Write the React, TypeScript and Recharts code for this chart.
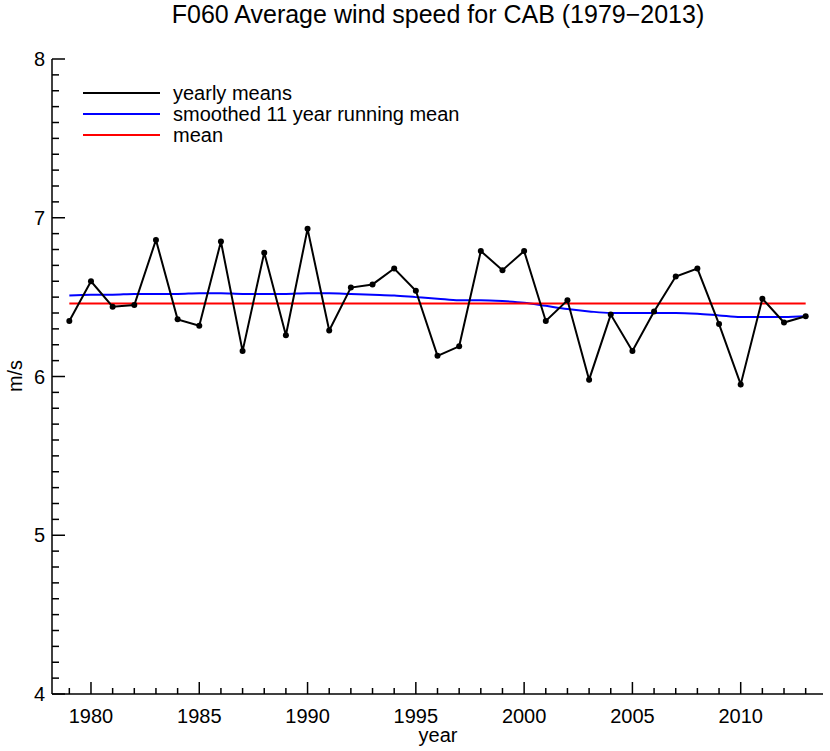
import React from 'react';
import { LineChart, Line, XAxis, YAxis, ReferenceLine, Legend } from 'recharts';

const years = [
  1979, 1980, 1981, 1982, 1983, 1984, 1985, 1986, 1987, 1988,
  1989, 1990, 1991, 1992, 1993, 1994, 1995, 1996, 1997, 1998,
  1999, 2000, 2001, 2002, 2003, 2004, 2005, 2006, 2007, 2008,
  2009, 2010, 2011, 2012, 2013,
];

const yearlyMeans = [
  6.35, 6.6, 6.44, 6.45, 6.86, 6.36, 6.32, 6.85, 6.16, 6.78,
  6.26, 6.93, 6.29, 6.56, 6.58, 6.68, 6.54, 6.13, 6.19, 6.79,
  6.67, 6.79, 6.35, 6.48, 5.98, 6.39, 6.16, 6.41, 6.63, 6.68,
  6.33, 5.95, 6.49, 6.34, 6.38,
];

const smoothedMeans = [
  6.51, 6.515, 6.515, 6.52, 6.52, 6.52, 6.525, 6.525, 6.52, 6.52,
  6.52, 6.525, 6.525, 6.52, 6.515, 6.51, 6.5, 6.49, 6.48, 6.48,
  6.475, 6.465, 6.445, 6.425, 6.41, 6.4, 6.4, 6.4, 6.4, 6.395,
  6.385, 6.375, 6.375, 6.375, 6.38,
];

const meanSpeed = 6.46;

const legendItems = [
  { label: 'yearly means', color: '#000000' },
  { label: 'smoothed 11 year running mean', color: '#0000ff' },
  { label: 'mean', color: '#ff0000' },
];

const yTicks = Array.from({ length: 41 }, (_, i) => +(4 + i * 0.1).toFixed(1));

const FONT = '"Liberation Sans", Arial, Helvetica, sans-serif';

const data = years.map((year, i) => ({
  year,
  yearly: yearlyMeans[i],
  smooth: smoothedMeans[i],
}));

const isMajorY = (v: number) => Math.abs(v - Math.round(v)) < 1e-6;

// tick marks point into the plot, as in the IDL frame
const BottomTick = ({ x, y, payload }: any) => {
  const major = payload.value % 5 === 0;
  return (
    <g>
      <line x1={x} x2={x} y1={y} y2={y - (major ? 12 : 6)} stroke="#000" strokeWidth={1.5} />
      {major && (
        <text x={x} y={y + 29} textAnchor="middle" fontSize={20} fontFamily={FONT} fill="#000">
          {payload.value}
        </text>
      )}
    </g>
  );
};

const TopTick = ({ x, y, payload }: any) => {
  const major = payload.value % 5 === 0;
  return <line x1={x} x2={x} y1={y} y2={y + (major ? 12 : 6)} stroke="#000" strokeWidth={1.5} />;
};

const LeftTick = ({ x, y, payload }: any) => {
  const major = isMajorY(payload.value);
  return (
    <g>
      <line x1={x} x2={x + (major ? 13 : 7)} y1={y} y2={y} stroke="#000" strokeWidth={1.5} />
      {major && (
        <text x={x - 7} y={y + 7} textAnchor="end" fontSize={20} fontFamily={FONT} fill="#000">
          {Math.round(payload.value)}
        </text>
      )}
    </g>
  );
};

const RightTick = ({ x, y, payload }: any) => {
  const major = isMajorY(payload.value);
  return <line x1={x} x2={x - (major ? 13 : 7)} y1={y} y2={y} stroke="#000" strokeWidth={1.5} />;
};

const renderLegend = () => (
  <svg width={440} height={70}>
    {legendItems.map((item, i) => (
      <g key={item.label}>
        <line x1={4} x2={81} y1={12 + i * 21} y2={12 + i * 21} stroke={item.color} strokeWidth={2} />
        <text x={94} y={19 + i * 21} fontSize={20} fontFamily={FONT} fill="#000">
          {item.label}
        </text>
      </g>
    ))}
  </svg>
);

const axisLine = { stroke: '#000', strokeWidth: 1.5 };

export default function App() {
  return (
    <div style={{ position: 'absolute', left: 0, top: 0, width: 830, height: 751, background: '#fff' }}>
      <LineChart width={830} height={751} data={data} margin={{ top: 59, right: 7, left: 0, bottom: 0 }}>
        <XAxis
          xAxisId="bottom"
          dataKey="year"
          type="number"
          domain={[1978.2, 2013.8]}
          ticks={years}
          interval={0}
          height={57}
          tickSize={0}
          tickMargin={0}
          tickLine={false}
          axisLine={axisLine}
          tick={<BottomTick />}
          allowDataOverflow
        />
        <XAxis
          xAxisId="top"
          orientation="top"
          dataKey="year"
          type="number"
          domain={[1978.2, 2013.8]}
          ticks={years}
          interval={0}
          height={0}
          tickSize={0}
          tickMargin={0}
          tickLine={false}
          axisLine={axisLine}
          tick={<TopTick />}
          allowDataOverflow
        />
        <YAxis
          yAxisId="left"
          type="number"
          domain={[4, 8]}
          ticks={yTicks}
          interval={0}
          width={52}
          tickSize={0}
          tickMargin={0}
          tickLine={false}
          axisLine={axisLine}
          tick={<LeftTick />}
          allowDataOverflow
        />
        <YAxis
          yAxisId="right"
          orientation="right"
          type="number"
          domain={[4, 8]}
          ticks={yTicks}
          interval={0}
          width={0}
          tickSize={0}
          tickMargin={0}
          tickLine={false}
          axisLine={axisLine}
          tick={<RightTick />}
          allowDataOverflow
        />
        <Legend
          layout="horizontal"
          verticalAlign="middle"
          align="center"
          content={renderLegend}
          wrapperStyle={{ left: 79, top: 81, width: 440, height: 70 }}
        />
        <Line
          xAxisId="bottom"
          yAxisId="left"
          dataKey="smooth"
          type="monotone"
          stroke="#0000ff"
          strokeWidth={2}
          dot={false}
          isAnimationActive={false}
        />
        <ReferenceLine
          xAxisId="bottom"
          yAxisId="left"
          segment={[{ x: years[0], y: meanSpeed }, { x: years[years.length - 1], y: meanSpeed }]}
          stroke="#ff0000"
          strokeWidth={2}
        />
        <Line
          xAxisId="bottom"
          yAxisId="left"
          dataKey="yearly"
          type="linear"
          stroke="#000"
          strokeWidth={2}
          dot={{ r: 3, fill: '#000', stroke: 'none' }}
          isAnimationActive={false}
        />
      </LineChart>
      <svg
        width={830}
        height={751}
        style={{ position: 'absolute', left: 0, top: 0, pointerEvents: 'none' }}
      >
        <text x={438} y={23} textAnchor="middle" fontSize={25} fontFamily={FONT} fill="#000">
          F060 Average wind speed for CAB (1979−2013)
        </text>
        <text x={438} y={742} textAnchor="middle" fontSize={20} fontFamily={FONT} fill="#000">
          year
        </text>
        <text
          transform="translate(22,376) rotate(-90)"
          textAnchor="middle"
          fontSize={20}
          fontFamily={FONT}
          fill="#000"
        >
          m/s
        </text>
      </svg>
    </div>
  );
}
